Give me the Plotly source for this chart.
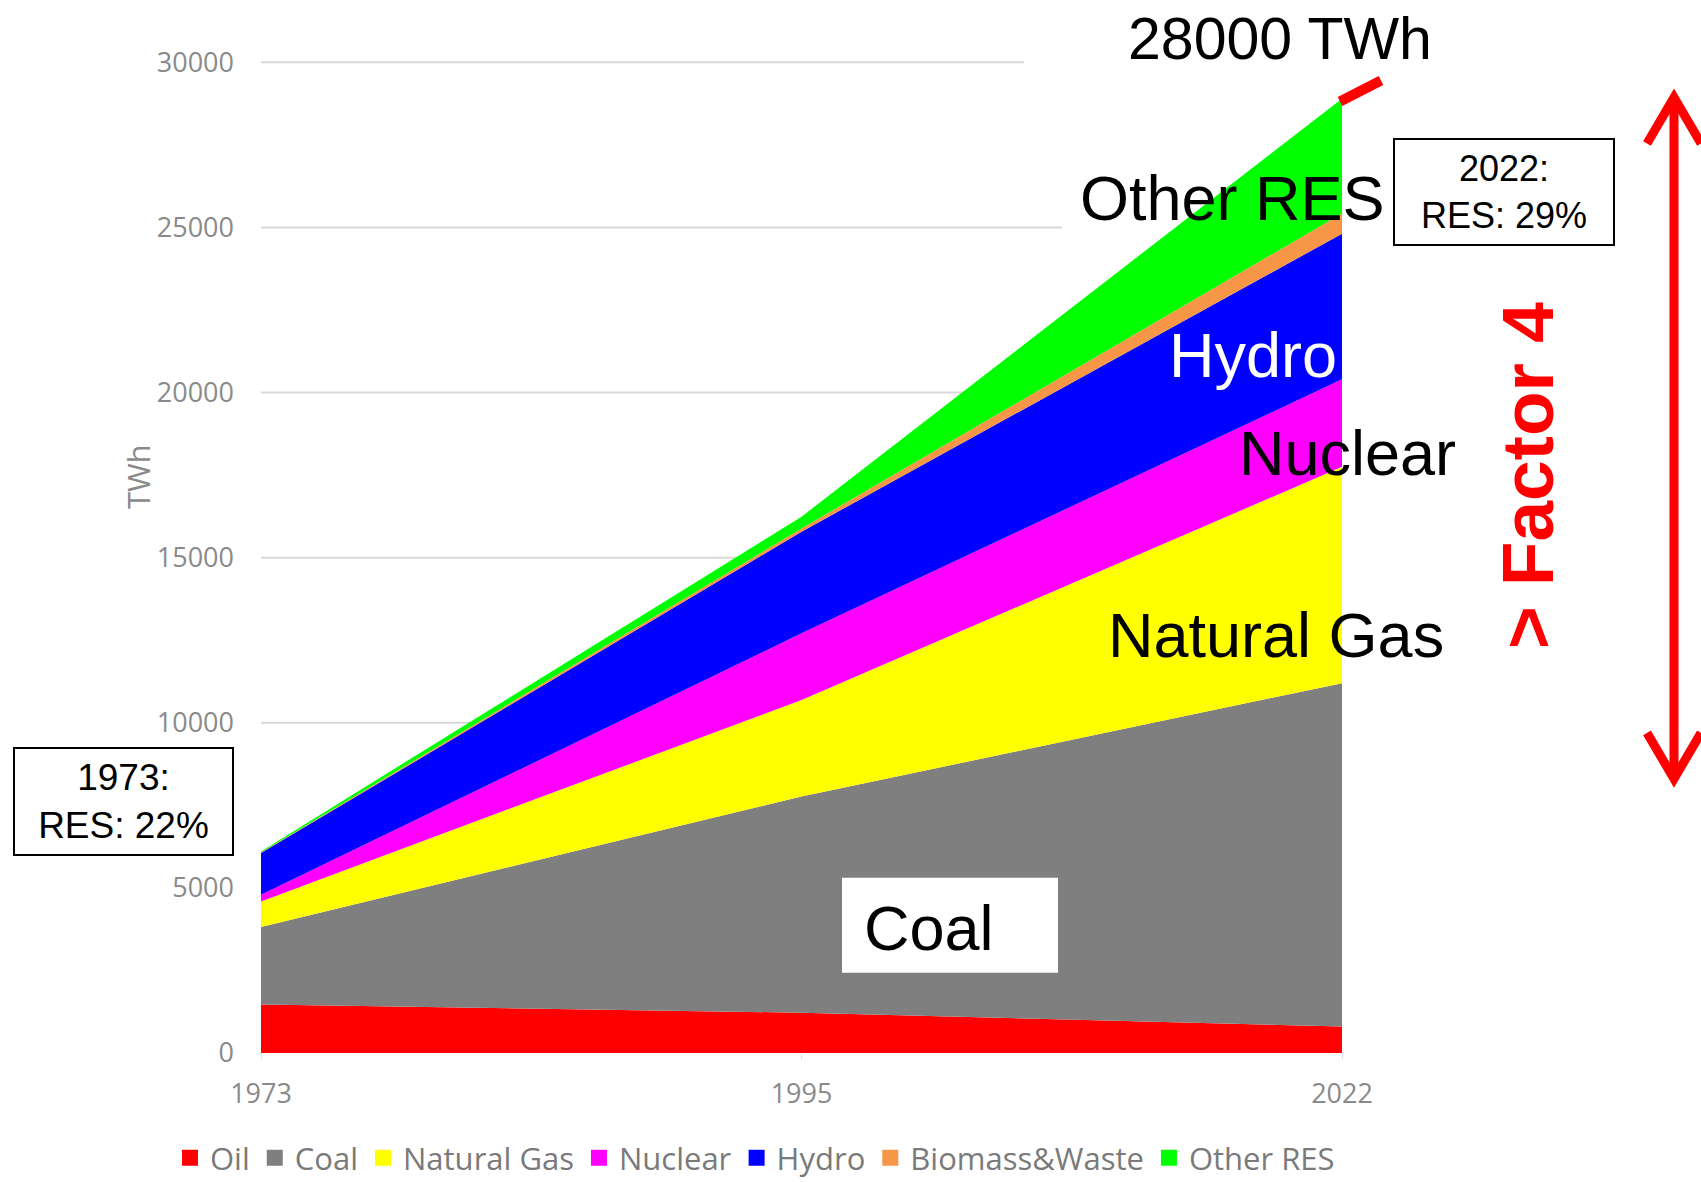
import plotly.graph_objects as go

# World electricity generation by source (TWh)
years = ["1973", "1995", "2022"]
oil = [1470, 1220, 800]
coal = [2345, 6550, 10400]
natural_gas = [775, 2920, 6550]
nuclear = [200, 2020, 2650]
hydro = [1264, 3075, 4410]
biomass_waste = [20, 100, 610]
other_res = [30, 355, 3480]

series_names = ["Oil", "Coal", "Natural Gas", "Nuclear", "Hydro", "Biomass&Waste", "Other RES"]
series_values = [oil, coal, natural_gas, nuclear, hydro, biomass_waste, other_res]
series_colors = ["#ff0000", "#7f7f7f", "#ffff00", "#ff00ff", "#0000ff", "#f79646", "#00ff00"]

y_ticks = [0, 5000, 10000, 15000, 20000, 25000, 30000]

# Figure geometry (pixels)
FIG_W, FIG_H = 1701, 1182
LEFT, RIGHT_EDGE = 261, 1342
BOTTOM = 1053.4
PX_PER_TWH = 0.033053
Y_MAX = 30100
TOP = BOTTOM - Y_MAX * PX_PER_TWH
PW, PH = RIGHT_EDGE - LEFT, BOTTOM - TOP


def px(xp):
    return (xp - LEFT) / PW


def py(yp):
    return (BOTTOM - yp) / PH


fig = go.Figure()

for name, vals, col in zip(series_names, series_values, series_colors):
    fig.add_trace(go.Scatter(
        x=years, y=vals, name=name, mode="none", stackgroup="gen",
        fillcolor=col, showlegend=False, hoverinfo="x+y+name",
    ))

# Legend entries as square swatches
for name, col in zip(series_names, series_colors):
    fig.add_trace(go.Scatter(
        x=[None], y=[None], name=name, mode="markers",
        marker=dict(symbol="square", size=16, color=col),
    ))

ARIAL = "Arial, Liberation Sans, sans-serif"
AXIS_FONT = dict(family="Open Sans, sans-serif", size=27, color="#8a8a8a")

# Horizontal gridlines, drawn beneath the areas; the top two stop short
# where the headline labels sit.
grid_end = {30000: px(1024), 25000: px(1062)}
shapes = []
for v in y_ticks[1:]:
    shapes.append(dict(type="line", xref="paper", yref="y", layer="below",
                       x0=0, x1=grid_end.get(v, 1), y0=v, y1=v,
                       line=dict(color="#d9d9d9", width=2)))

shapes += [
    # white panel behind the "Coal" label
    dict(type="rect", xref="paper", yref="paper", layer="above",
         x0=px(842), x1=px(1058), y0=py(973), y1=py(878),
         fillcolor="white", line=dict(width=0)),
    # leader from the 2022 total up towards the headline
    dict(type="line", xref="paper", yref="paper",
         x0=px(1340), x1=px(1381), y0=py(101), y1=py(80),
         line=dict(color="#ff0000", width=10)),
    # double-headed "factor" arrow
    dict(type="line", xref="paper", yref="paper",
         x0=px(1674), x1=px(1674), y0=py(100), y1=py(776),
         line=dict(color="#ff0000", width=9)),
    dict(type="path", xref="paper", yref="paper",
         path=f"M {px(1647)},{py(143)} L {px(1674)},{py(97)} L {px(1701)},{py(143)}",
         line=dict(color="#ff0000", width=9)),
    dict(type="path", xref="paper", yref="paper",
         path=f"M {px(1647)},{py(733)} L {px(1674)},{py(779)} L {px(1701)},{py(733)}",
         line=dict(color="#ff0000", width=9)),
]

annotations = [
    dict(text="28000 TWh", x=px(1280), y=py(38), font=dict(family=ARIAL, size=59, color="black")),
    dict(text="Other RES", x=px(1232), y=py(198), font=dict(family=ARIAL, size=63, color="black")),
    dict(text="Hydro", x=px(1253), y=py(355), font=dict(family=ARIAL, size=63, color="white")),
    dict(text="Nuclear", x=px(1347), y=py(453), font=dict(family=ARIAL, size=63, color="black")),
    dict(text="Natural Gas", x=px(1276), y=py(635), font=dict(family=ARIAL, size=63, color="black")),
    dict(text="Coal", x=px(862), y=py(928), xanchor="left", font=dict(family=ARIAL, size=63, color="black")),
    dict(text="1973:<br>RES: 22%", x=px(123.5), y=py(801.5),
         font=dict(family=ARIAL, size=37, color="black"),
         bgcolor="white", bordercolor="black", borderwidth=2, borderpad=0,
         width=217, height=105),
    dict(text="2022:<br>RES: 29%", x=px(1504), y=py(192),
         font=dict(family=ARIAL, size=36, color="black"),
         bgcolor="white", bordercolor="black", borderwidth=2, borderpad=0,
         width=218, height=104),
    dict(text="<b>&gt; Factor 4</b>", x=px(1527), y=py(476), textangle=-90,
         font=dict(family=ARIAL, size=73, color="#ff0000")),
    dict(text="TWh", x=px(138), y=py(477), textangle=-90,
         font=dict(family="Open Sans, sans-serif", size=31, color="#8a8a8a")),
]
for a in annotations:
    a.setdefault("xref", "paper")
    a.setdefault("yref", "paper")
    a.setdefault("showarrow", False)
    a.setdefault("xanchor", "center")
    a.setdefault("yanchor", "middle")

fig.update_layout(
    width=FIG_W, height=FIG_H,
    margin=dict(l=LEFT, r=FIG_W - RIGHT_EDGE, t=TOP, b=FIG_H - BOTTOM, autoexpand=False),
    paper_bgcolor="white", plot_bgcolor="white",
    xaxis=dict(type="category", range=[0, 2], showgrid=False, zeroline=False,
               showline=False, ticks="outside", ticklen=5, tickcolor="#e0e0e0",
               tickfont=AXIS_FONT, ticklabelstandoff=12, automargin=False),
    yaxis=dict(range=[0, Y_MAX], tickvals=y_ticks, tickformat="d", showgrid=False,
               zeroline=False, showline=False, automargin=False,
               tickfont=AXIS_FONT, ticklabelstandoff=26),
    legend=dict(orientation="h", traceorder="normal",
                x=px(170), y=py(1158.6), xanchor="left", yanchor="middle",
                font=dict(family="Open Sans, sans-serif", size=31, color="#7a7a7a"),
                itemwidth=30, tracegroupgap=0, bgcolor="rgba(0,0,0,0)"),
    shapes=shapes,
    annotations=annotations,
    showlegend=True,
)

fig.write_html("out.html")
